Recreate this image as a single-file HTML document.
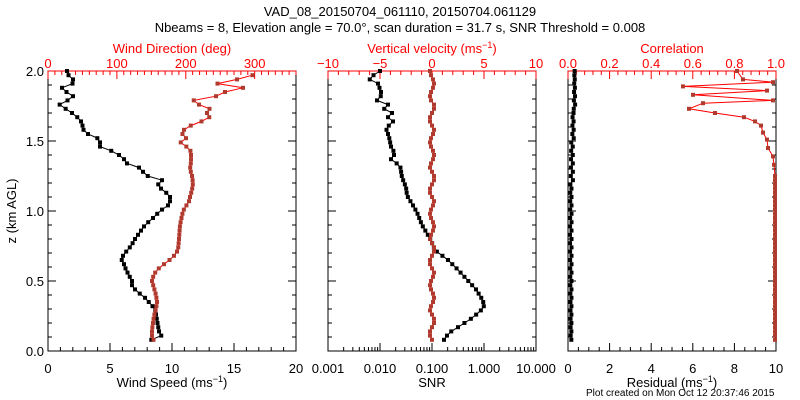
<!DOCTYPE html>
<html><head><meta charset="utf-8"><style>
html,body{margin:0;padding:0;background:#fff;}
svg{display:block;font-family:"Liberation Sans",sans-serif;}
</style></head><body>
<svg id="s" width="800" height="400" viewBox="0 0 800 400" xmlns="http://www.w3.org/2000/svg">
<rect width="800" height="400" fill="#fff"/>
<text x="400" y="16" font-size="13" text-anchor="middle">VAD_08_20150704_061110, 20150704.061129</text>
<text x="400" y="32" font-size="13" text-anchor="middle">Nbeams = 8, Elevation angle = 70.0°, scan duration = 31.7 s, SNR Threshold = 0.008</text>
<g id="g"></g>
</svg>
<script>
var g=document.getElementById('g'),h='';
var T=71,B=351;
function Y(z){return B-(B-T)*z/2;}
function line(x1,y1,x2,y2,c,w){h+='<line x1="'+x1+'" y1="'+y1+'" x2="'+x2+'" y2="'+y2+'" stroke="'+(c||'#000')+'" stroke-width="'+(w||1)+'"/>';}
function txt(x,y,s,c,a,fs){h+='<text x="'+x+'" y="'+y+'" font-size="'+(fs||13)+'" fill="'+(c||'#000')+'" text-anchor="'+(a||'middle')+'">'+s+'</text>';}
function box(L,R){h+='<rect x="'+L+'" y="'+T+'" width="'+(R-L)+'" height="'+(B-T)+'" fill="none" stroke="#000"/>';
 for(var i=0;i<=20;i++){var y=Y(i*0.1),m=i%5==0?8:4;line(L,y,L+m,y);line(R,y,R-m,y);}}
function ticksX(L,R,n,maj,yb,dir,c){for(var i=0;i<=n;i++){var x=L+(R-L)*i/n,m=i%maj==0?8:4;line(x,yb,x,yb+dir*m,c);}}
function series(pts,c,lc){var p='';pts.forEach(function(q){p+=q[0]+','+Y(q[1])+' ';});
 h+='<polyline points="'+p+'" fill="none" stroke="'+lc+'" stroke-width="1"/>';
 pts.forEach(function(q){h+='<rect x="'+(q[0]-2)+'" y="'+(Y(q[1])-2)+'" width="4" height="4" fill="'+c+'"/>';});}
function interp(k){var out=[];for(var z=2.0;z>=0.06;z-=0.03){for(var i=0;i<k.length-1;i++){if(z<=k[i][0]&&z>=k[i+1][0]){var t=(k[i][0]-z)/(k[i][0]-k[i+1][0]);out.push([k[i][1]+t*(k[i+1][1]-k[i][1]),z]);break;}}}return out;}
// Panel 1
box(48,296);ticksX(48,296,20,5,B,-1);ticksX(48,296,36,10,T,1,'#f00');line(48,T,296,T,'#f00');
[0,5,10,15,20].forEach(function(v,i){txt(48+62*i,373,v);});
[0,100,200,300].forEach(function(v){txt(48+v*248/360,68,v,'#f00');});
txt(172,53,'Wind Direction (deg)','#f00');txt(172,387,'Wind Speed (ms<tspan dy="-5" font-size="9">−1</tspan><tspan dy="5">)</tspan>');
[0,0.5,1,1.5,2].forEach(function(v){txt(44,Y(v)+5,v.toFixed(1),'#000','end');});
h+='<text x="16" y="211" font-size="13" text-anchor="middle" transform="rotate(-90 16 211)">z (km AGL)</text>';
var ws=[[2.0,67],[1.98,67],[1.92,76],[1.88,62],[1.84,68],[1.80,78],[1.78,57],[1.75,61],[1.72,68],[1.68,76],[1.64,81],[1.60,83],[1.56,84],[1.53,96],[1.50,100],[1.46,100],[1.42,115],[1.38,123],[1.34,127],[1.30,143],[1.26,143],[1.22,162],[1.18,157],[1.14,165],[1.10,170],[1.05,170],[1.0,160],[0.95,153],[0.9,145],[0.85,140],[0.8,135],[0.75,131],[0.7,125],[0.66,121],[0.62,124],[0.58,126],[0.54,129],[0.50,132],[0.46,132],[0.42,138],[0.38,145],[0.34,150],[0.30,155],[0.26,156],[0.22,157],[0.18,158],[0.14,159],[0.10,162],[0.07,146],[0.05,146]];
var wd=[[2.0,268],[1.94,237],[1.92,209],[1.88,243],[1.86,228],[1.82,216],[1.80,192],[1.76,199],[1.72,213],[1.70,207],[1.66,210],[1.62,193],[1.58,184],[1.54,182],[1.52,186],[1.48,179],[1.45,190],[1.40,191],[1.35,191],[1.30,190],[1.25,192],[1.20,193],[1.15,192],[1.10,190],[1.07,189],[1.0,183],[0.9,180],[0.8,179],[0.72,178],[0.68,174],[0.64,168],[0.60,160],[0.55,154],[0.5,152],[0.45,154],[0.40,156],[0.35,157],[0.30,156],[0.25,154],[0.2,153],[0.15,152],[0.10,152],[0.06,155],[0.05,155]];
series(interp(ws),'#000','#000');series(interp(wd).slice(1),'#b03a2e','#f00');
// Panel 2
box(328,536);line(328,T,536,T,'#f00');ticksX(328,536,20,5,T,1,'#f00');
for(var d=0;d<4;d++){for(var j=1;j<=10;j++){var x=328+52*(d+Math.log10(j)),m=j==10?8:4;line(x,B,x,B-m);}}
[-10,-5,0,5,10].forEach(function(v,i){txt(328+52*i,68,v==-10?'−10':v==-5?'−5':v,'#f00');});
['0.001','0.010','0.100','1.000','10.000'].forEach(function(v,i){txt(328+52*i,373,v);});
txt(432,53,'Vertical velocity (ms<tspan dy="-5" font-size="9">−1</tspan><tspan dy="5">)</tspan>','#f00');txt(432,387,'SNR');
var vv=[[2.0,380],[1.99,380],[1.95,367],[1.91,378],[1.83,382],[1.79,377],[1.76,388],[1.72,383],[1.70,392],[1.67,388],[1.64,393],[1.59,386],[1.53,389],[1.46,391],[1.41,395],[1.36,390],[1.33,400],[1.24,402],[1.17,406],[1.11,407],[1.04,413],[0.99,417],[0.9,422],[0.84,427],[0.79,431],[0.72,435],[0.65,448],[0.58,458],[0.51,467],[0.44,476],[0.36,483],[0.31,484],[0.24,473],[0.17,458],[0.13,449],[0.07,443],[0.05,443]];
var vr=[];for(var z=2.0;z>=0.06;z-=0.03){vr.push([432+Math.round(Math.sin(z*37)*2),z]);}
series(interp(vv),'#000','#000');series(vr,'#b03a2e','#f00');
// Panel 3
box(568,776);line(568,T,776,T,'#f00');ticksX(568,776,25,5,T,1,'#f00');ticksX(568,776,20,4,B,-1);
[0,2,4,6,8,10].forEach(function(v,i){txt(568+41.6*i,373,v);});
['0.0','0.2','0.4','0.6','0.8','1.0'].forEach(function(v,i){txt(568+41.6*i,68,v,'#f00');});
txt(672,53,'Correlation','#f00');txt(672,387,'Residual (ms<tspan dy="-5" font-size="9">−1</tspan><tspan dy="5">)</tspan>');
var rs=[];for(var z=2.0;z>=0.06;z-=0.03){var a=z>1.7?5:z>1.2?3:1.5;rs.push([570+Math.abs(Math.sin(z*53))*a+(z>1.5?1:0),z]);}
var cr=[[737,2.0],[743,1.94],[773,1.92],[683,1.89],[767,1.86],[693,1.83],[773,1.79],[703,1.77],[689,1.73],[715,1.70],[744,1.67],[755,1.64],[761,1.61],[763,1.56],[767,1.51],[768,1.45],[773,1.39],[774,1.33],[775,1.25]];
for(var z=1.22;z>=0.06;z-=0.03)cr.push([775,z]);
series(rs,'#000','#000');series(cr,'#b03a2e','#f00');
txt(586,396,'Plot created on Mon Oct 12 20:37:46 2015','#000','start',10);
g.innerHTML=h;
</script>
</body></html>
